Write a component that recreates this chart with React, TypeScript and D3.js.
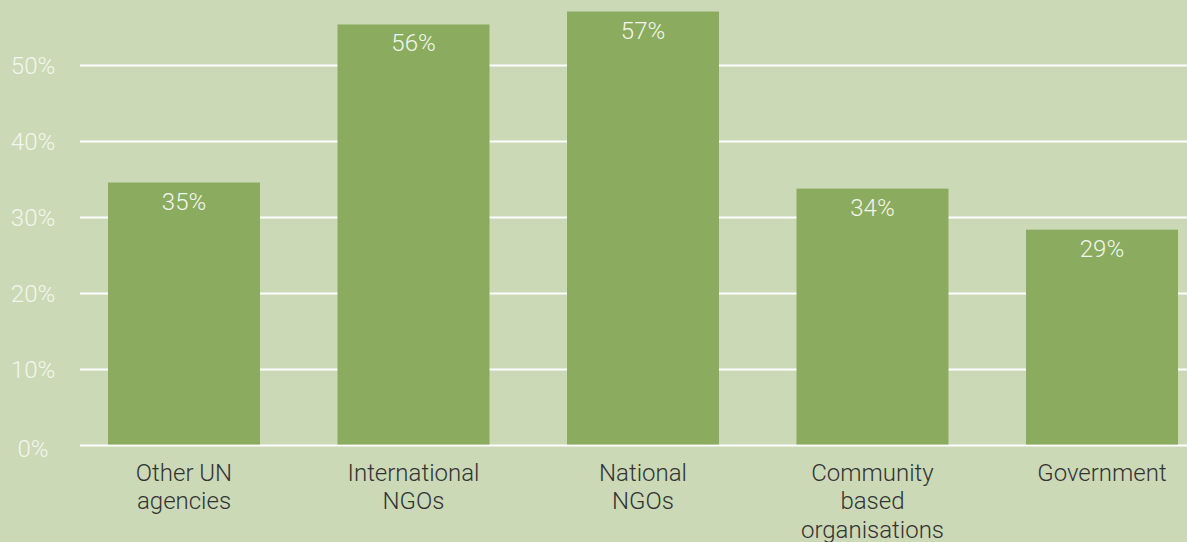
import React from "react";
import * as d3 from "d3";

const categories = ["Other UN agencies", "International NGOs", "National NGOs", "Community based organisations", "Government"];
const categoryLines = [["Other UN", "agencies"], ["International", "NGOs"], ["National", "NGOs"], ["Community", "based", "organisations"], ["Government"]];
const values = [34.6, 55.4, 57.1, 33.8, 28.4];
const valueLabels = ["35%", "56%", "57%", "34%", "29%"];
const yTicks = [0, 10, 20, 30, 40, 50];

const W = 1187;
const H = 542;
const BG = "#cbd9b6";
const BAR = "#8bab5f";
const FONT = "Roboto, 'Liberation Sans', Arial, sans-serif";
const FS = 24;

export default function App() {
  const x = d3.scaleBand<string>().domain(categories).range([69.25, 1216.75]).paddingInner(0.3377).paddingOuter(0.1689);
  const y = d3.scaleLinear().domain([0, 60]).range([445.5, -10.5]);
  const gridX0 = 80;
  return (
    <div style={{ position: "absolute", left: 0, top: 0, width: W, height: H }}>
      <svg width={W} height={H} style={{ display: "block" }}>
        <rect x={0} y={0} width={W} height={H} fill={BG} />
        {yTicks.map((t) => (
          <g key={t}>
            <line x1={gridX0} x2={W} y1={y(t)} y2={y(t)} stroke="#ffffff" strokeWidth={2} />
            <text x={33} y={y(t) + (t === 0 ? 3 : 0)} dy="0.35em" textAnchor="middle" fill="#f3f6ee" fontFamily={FONT} fontWeight={300} fontSize={FS}>
              {t}%
            </text>
          </g>
        ))}
        {categories.map((c, i) => {
          const bx = x(c) as number;
          const bw = x.bandwidth();
          const top = y(values[i]);
          return (
            <g key={c}>
              <rect x={bx} y={top} width={bw} height={y(0) - 1 - top} fill={BAR} />
              <text x={bx + bw / 2} y={top + 27} textAnchor="middle" fill="#f3f6ee" fontFamily={FONT} fontWeight={300} fontSize={FS}>
                {valueLabels[i]}
              </text>
              {categoryLines[i].map((ln, j) => (
                <text key={j} x={bx + bw / 2} y={y(0) + 35 + j * 28.5} textAnchor="middle" fill="#333333" fontFamily={FONT} fontWeight={300} fontSize={FS}>
                  {ln}
                </text>
              ))}
            </g>
          );
        })}
      </svg>
    </div>
  );
}
